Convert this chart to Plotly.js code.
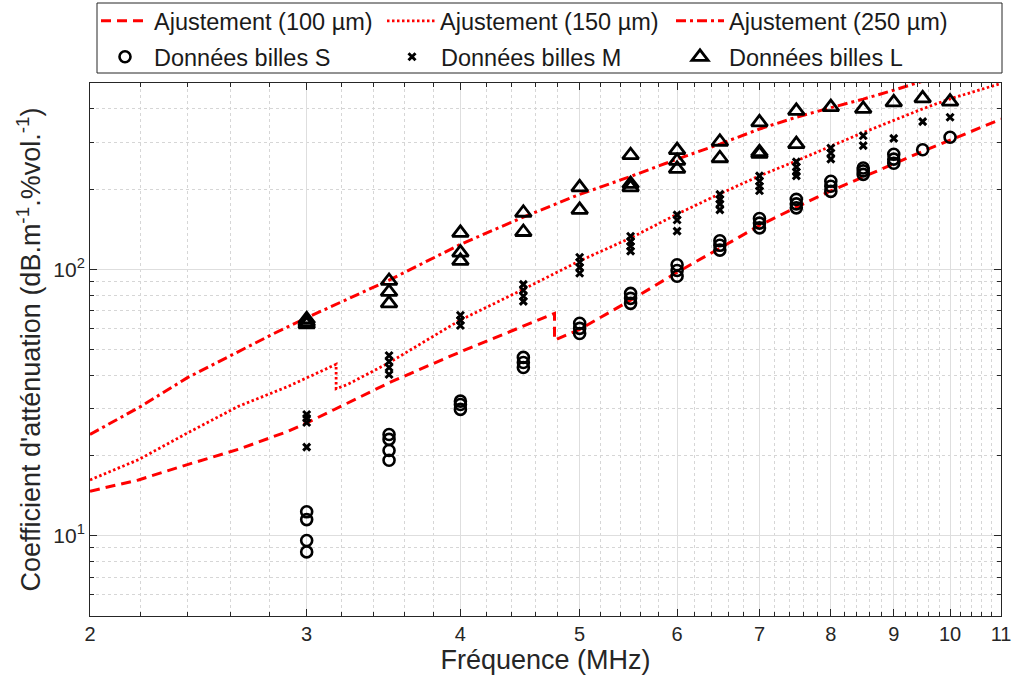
<!DOCTYPE html>
<html>
<head>
<meta charset="utf-8">
<script src="https://cdn.plot.ly/plotly-3.0.1.min.js"></script>
<style>html,body{margin:0;padding:0;background:#fff;}#chart{width:1012px;height:686px;}</style>
</head>
<body>
<div id="chart"></div>
<script>
// ---- Fitted model curves ----
const fit100X = [2, 2.19, 2.4, 2.64, 2.9, 3.0, 3.24, 3.5, 4, 4.5, 4.77, 4.77, 5, 5.5, 6, 6.5, 7, 7.5, 8, 8.5, 9, 9.5, 10, 11];
const fit100Y = [14.7, 16.2, 18.5, 21.1, 24.7, 26.5, 31.5, 37.5, 49, 61.1, 68.3, 54.2, 59.5, 76.5, 97.4, 120, 146, 171, 197, 222, 249, 277, 305, 366];

const fit150X = [2, 2.19, 2.4, 2.64, 2.9, 3.0, 3.17, 3.17, 3.24, 3.5, 4, 4.5, 5, 5.5, 6, 6.5, 7, 7.5, 8, 8.5, 9, 9.5, 10, 11];
const fit150Y = [16.2, 19.3, 24.3, 30.6, 36.4, 39.2, 44.0, 35.6, 37.0, 44.6, 64.5, 84.1, 107.5, 131, 161, 192, 224, 255, 290, 326, 362, 400, 436, 498];

const fit250X = [2, 2.2, 2.4, 2.63, 2.83, 3.0, 3.24, 3.5, 4, 4.5, 5, 5.5, 6, 6.5, 7, 7.5, 8, 8.5, 9, 9.5];
const fit250Y = [24.0, 30.6, 39.2, 48.6, 57.8, 65.8, 77.1, 91, 124, 157, 191, 223, 259, 295, 336, 372, 404, 435, 470, 508];

// ---- Measurements: billes S ----
const sX = [3,3,3,3, 3.5,3.5,3.5,3.5, 4,4,4, 4.5,4.5,4.5, 5,5,5, 5.5,5.5,5.5, 6,6,6, 6.5,6.5,6.5, 7,7,7, 7.5,7.5,7.5, 8,8,8, 8.5,8.5,8.5, 9,9,9, 9.5, 10];
const sY = [12.3,11.5,9.6,8.7, 24.0,23.0,20.9,19.2, 32.0,31.1,29.8, 46.7,44.7,42.8, 62.7,60.0,57.4, 81.2,77.8,74.5, 104,99,94.1, 128,123,118, 155,149,143, 183,176,170, 214,205,196, 240,234,227, 270,259,250, 281, 313];

// ---- Measurements: billes M ----
const mX = [3,3,3,3, 3.5,3.5,3.5,3.5, 4,4,4, 4.5,4.5,4.5,4.5, 5,5,5,5, 5.5,5.5,5.5,5.5, 6,6,6, 6.5,6.5,6.5,6.5, 7,7,7,7, 7.5,7.5,7.5,7.5, 8,8,8, 8.5,8.5, 9, 9.5, 10];
const mY = [28.5,27.6,26.6,21.5, 47.5,45.1,42.8,40.3, 67.2,64.3,61.5, 87.8,83.4,79.2,75.8, 110.9,106.2,101.7,96.6, 133,127,122,117, 160,153,139, 191,183,176,167, 224,214,205,197, 253,242,232,224, 285,273,259, 317,291, 310, 358, 372];

// ---- Measurements: billes L ----
const lX = [3,3,3, 3.5,3.5,3.5, 4,4,4, 4.5,4.5, 5,5, 5.5,5.5,5.5, 6,6,6, 6.5,6.5, 7,7,7, 7.5,7.5, 8, 8.5, 9, 9.5, 10];
const lY = [64.9,63.3,62.1, 90.4,82.2,74.5, 137,115.5,107.5, 163,138, 203,167, 268,209,203, 280,255,238, 301,261, 356,275,271, 393,295, 406, 400, 423, 438, 426];

// ---- Tick labels ----
const xTickVals = [2,3,4,5,6,7,8,9,10,11];
const xTickText = ['2','3','4','5','6','7','8','9','10','11'];
const yTickVals = [10, 100];
const yTickText = ['10<sup>1</sup>', '10<sup>2</sup>'];
const yMinorVals = [6,7,8,9,20,30,40,50,60,70,80,90,200,300,400,500];
const xMinorVals = [];
for (let i = 0; i < 45; i++) {
  const v = Math.round((2 + i * 0.2) * 10) / 10;
  if (Math.abs(v - Math.round(v)) > 1e-6 && v < 11) xMinorVals.push(v);
}

const names = ['Ajustement (100 µm)', 'Ajustement (150 µm)', 'Ajustement (250 µm)',
               'Données billes S', 'Données billes M', 'Données billes L'];

const RED = '#ff0000';
const BLK = '#000000';
const traces = [
  {x: fit100X, y: fit100Y, mode: 'lines', name: names[0], legend: 'legend',
   line: {color: RED, width: 3, dash: '10px,6px'}},
  {x: fit150X, y: fit150Y, mode: 'lines', name: names[1], legend: 'legend2',
   line: {color: RED, width: 2.8, dash: '2.5px,2.5px'}},
  {x: fit250X, y: fit250Y, mode: 'lines', name: names[2], legend: 'legend3',
   line: {color: RED, width: 3, dash: '10px,4px,3px,4px'}},
  {x: sX, y: sY, mode: 'markers', name: names[3], legend: 'legend4',
   marker: {symbol: 'circle-open', size: 11, color: BLK, line: {width: 2.6, color: BLK}}},
  {x: mX, y: mY, mode: 'markers', name: names[4], legend: 'legend5',
   marker: {symbol: 'x-thin-open', size: 7, color: BLK, line: {width: 3, color: BLK}}},
  {x: lX, y: lY, mode: 'markers', name: names[5], legend: 'legend6',
   marker: {symbol: 'triangle-up-open', size: 14, color: BLK, line: {width: 2.8, color: BLK}}}
];

const FONT = 'Liberation Sans, Arial, Helvetica, sans-serif';
const AX = '#262626';
const plotL = 90, plotR = 1001, plotT = 83, plotB = 616;
const pw = plotR - plotL, ph = plotB - plotT;
const px = v => (v - plotL) / pw;
const py = v => (plotB - v) / ph;

function leg(xPix, yPix) {
  return {
    orientation: 'h', xanchor: 'left', yanchor: 'middle', x: px(xPix), y: py(yPix),
    bgcolor: 'rgba(0,0,0,0)', borderwidth: 0,
    font: {family: FONT, size: 23.5, color: '#1a1a1a'},
    itemwidth: 48, itemclick: false, itemdoubleclick: false
  };
}

const layout = {
  width: 1012, height: 686,
  margin: {l: plotL, r: 1012 - plotR, t: plotT, b: 686 - plotB, pad: 0, autoexpand: false},
  paper_bgcolor: '#fff', plot_bgcolor: '#fff',
  font: {family: FONT, color: AX},
  showlegend: true,
  legend: leg(96, 21), legend2: leg(382, 21), legend3: leg(671, 21),
  legend4: leg(96, 57), legend5: leg(383, 57), legend6: leg(671, 57),
  shapes: [{type: 'rect', xref: 'paper', yref: 'paper', x0: px(97), x1: px(1002), y0: py(73), y1: py(3),
            line: {color: AX, width: 1}, fillcolor: '#fff', layer: 'below'}],
  xaxis: {
    type: 'log', range: [Math.log10(2), Math.log10(11)],
    tickmode: 'array', tickvals: xTickVals, ticktext: xTickText,
    ticks: 'inside', ticklen: 7, tickwidth: 1, tickcolor: AX,
    showline: true, linecolor: AX, linewidth: 1, mirror: 'ticks',
    showgrid: true, gridcolor: '#dedede', gridwidth: 1, zeroline: false,
    tickfont: {family: FONT, size: 20, color: AX},
    minor: {tickmode: 'array', tickvals: xMinorVals, ticks: 'inside', ticklen: 4, tickcolor: AX,
            showgrid: true, gridcolor: '#d6d6d6', griddash: 'dot', gridwidth: 1},
    title: {text: 'Fréquence (MHz)', font: {family: FONT, size: 27, color: AX}, standoff: 6}
  },
  yaxis: {
    type: 'log', range: [Math.log10(5), Math.log10(500)],
    tickmode: 'array', tickvals: yTickVals, ticktext: yTickText,
    ticks: 'inside', ticklen: 7, tickwidth: 1, tickcolor: AX,
    showline: true, linecolor: AX, linewidth: 1, mirror: 'ticks',
    showgrid: true, gridcolor: '#dedede', gridwidth: 1, zeroline: false,
    tickfont: {family: FONT, size: 21, color: AX},
    minor: {tickmode: 'array', tickvals: yMinorVals, ticks: 'inside', ticklen: 4, tickcolor: AX,
            showgrid: true, gridcolor: '#d6d6d6', griddash: 'dot', gridwidth: 1},
    title: {text: "Coefficient d'atténuation (dB.m<sup>-1</sup>.%vol.<sup>-1</sup>)",
            font: {family: FONT, size: 27, color: AX}, standoff: 4}
  }
};

Plotly.newPlot('chart', traces, layout, {staticPlot: true, displayModeBar: false});
</script>
</body>
</html>
